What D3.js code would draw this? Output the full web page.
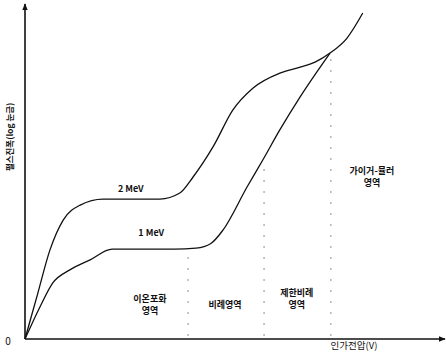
<!DOCTYPE html>
<html>
<head>
<meta charset="utf-8">
<script src="https://cdn.jsdelivr.net/npm/d3@7"></script>
<style>
  html, body { margin: 0; padding: 0; background: #fff; }
  svg { display: block; }
  text { font-family: "Noto Sans CJK KR", "Noto Sans", sans-serif; fill: #111; }
</style>
</head>
<body>
<script>
// Applied voltage (relative units) and pulse amplitude (log, relative units)
const mev2X = [0, 3.0, 6.0, 9.2, 13.3, 18.8, 32.5, 37.3, 40.5, 45.3, 50.1, 54.9, 61.4, 66.3, 69.9, 73.5, 77.6, 81.4];
const mev2Y = [0, 13.3, 26.6, 35.6, 40.1, 41.9, 41.9, 43.7, 48.5, 57.5, 68.6, 75.1, 79.6, 81.4, 82.9, 85.6, 90.1, 97.6];
const mev1X = [0, 3.6, 6.7, 10.8, 15.7, 21.0, 36.0, 41.2, 44.8, 47.7, 53.5, 57.3, 61.4, 66.3, 73.5];
const mev1Y = [0, 9.6, 16.8, 20.7, 23.7, 26.9, 26.9, 27.2, 28.6, 32.6, 45.5, 53.6, 62.6, 72.5, 85.6];
const seriesNames = ["2 MeV", "1 MeV"];
const labelAt = [[25.5, 42.1], [30.4, 29.0]];

// Region boundaries along the voltage axis
const boundaries = [39.3, 57.6, 73.7];
const regionNames = [["이온포화", "영역"], ["비례영역"], ["제한비례", "영역"], ["가이거-뮬러", "영역"]];
const regionX = [30.1, 48.2, 65.5, 83.6];
const regionY = [11.1, 9.3, 12.9, 49.4];

const yTitle = "펄스진폭(log 눈금)";
const xTitle = "인가전압(V)";
const originLabel = "0";

const W = 446, H = 352;
const svg = d3.select("body").append("svg").attr("width", W).attr("height", H);

const x = d3.scaleLinear().domain([0, 100]).range([25, 440]);
const y = d3.scaleLinear().domain([0, 100]).range([339, 5]);

// Arrow heads
const defs = svg.append("defs");
defs.append("marker").attr("id", "arr").attr("viewBox", "0 0 10 10")
  .attr("refX", 9).attr("refY", 5).attr("markerWidth", 7).attr("markerHeight", 7)
  .attr("orient", "auto").attr("markerUnits", "userSpaceOnUse")
  .append("path").attr("d", "M0,1 L10,5 L0,9 Z").attr("fill", "#111");

// Axes
svg.append("line").attr("x1", x(0)).attr("y1", y(0)).attr("x2", W - 1).attr("y2", y(0))
  .attr("stroke", "#111").attr("stroke-width", 1.6).attr("marker-end", "url(#arr)");
svg.append("line").attr("x1", x(0)).attr("y1", y(0)).attr("x2", x(0)).attr("y2", 4)
  .attr("stroke", "#111").attr("stroke-width", 1.6).attr("marker-end", "url(#arr)");

// Dotted region boundaries, rising from the x axis to the 1 MeV curve
const interp1 = d3.scaleLinear().domain(mev1X).range(mev1Y);
svg.selectAll("line.bound").data(boundaries).join("line")
  .attr("class", "bound")
  .attr("x1", d => x(d)).attr("x2", d => x(d))
  .attr("y1", y(0) - 3).attr("y2", d => y(interp1(d)) + 6)
  .attr("stroke", "#999").attr("stroke-width", 1.1)
  .attr("stroke-dasharray", "2,9");

// Curves
const line = d3.line().x(d => x(d[0])).y(d => y(d[1])).curve(d3.curveMonotoneX);
const series = [d3.zip(mev2X, mev2Y), d3.zip(mev1X, mev1Y)];
svg.selectAll("path.curve").data(series).join("path")
  .attr("class", "curve")
  .attr("d", line).attr("fill", "none")
  .attr("stroke", "#111").attr("stroke-width", 1.3);

// Series labels
svg.selectAll("text.series").data(seriesNames).join("text")
  .attr("class", "series")
  .attr("x", (d, i) => x(labelAt[i][0])).attr("y", (d, i) => y(labelAt[i][1]) - 6)
  .attr("text-anchor", "middle").attr("font-size", 9).attr("font-weight", "bold")
  .text(d => d);

// Region labels
regionNames.forEach((lines, i) => {
  const t = svg.append("text")
    .attr("x", x(regionX[i])).attr("y", y(regionY[i]))
    .attr("text-anchor", "middle").attr("font-size", 9).attr("font-weight", "bold");
  lines.forEach((s, j) => {
    t.append("tspan").attr("x", x(regionX[i])).attr("dy", j === 0 ? 0 : 12).text(s);
  });
});

// Axis titles
svg.append("text").attr("transform", `translate(13,${y(60.5)}) rotate(-90)`)
  .attr("text-anchor", "middle").attr("font-size", 8.5).attr("font-weight", "bold")
  .text(yTitle);
svg.append("text").attr("x", 354).attr("y", 349)
  .attr("text-anchor", "middle").attr("font-size", 9.5)
  .text(xTitle);
svg.append("text").attr("x", 8).attr("y", y(0) + 6)
  .attr("text-anchor", "middle").attr("font-size", 10)
  .text(originLabel);
</script>
</body>
</html>
